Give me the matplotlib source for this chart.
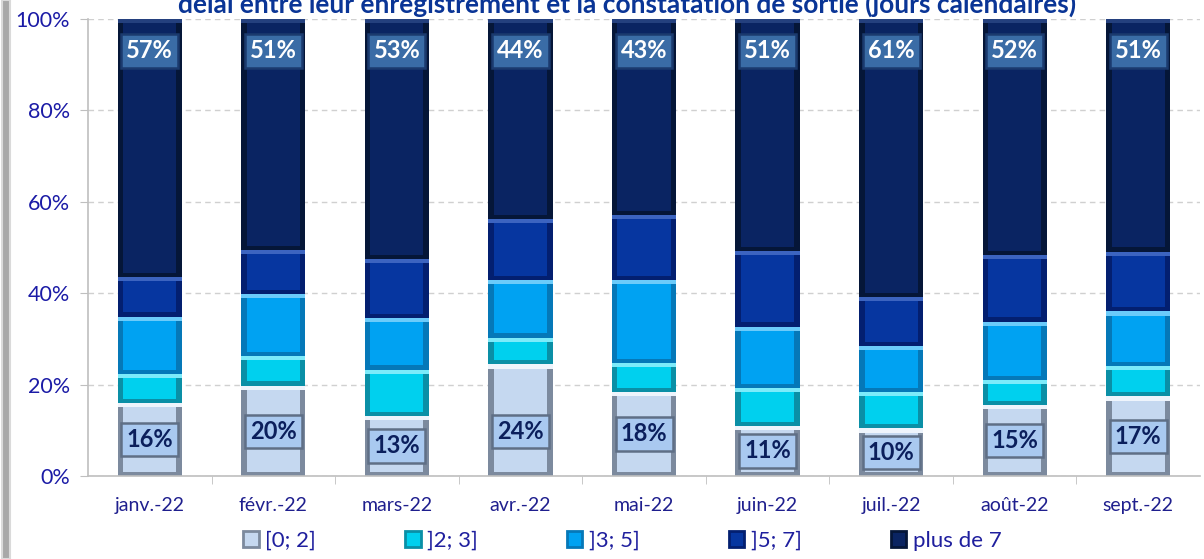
import matplotlib
matplotlib.use('Agg')
import matplotlib.pyplot as plt
import numpy as np
from matplotlib.patches import Rectangle

plt.rcParams['font.family'] = ['Lato', 'DejaVu Sans']

# data (share of cases by delay, %)
months = ['janv.-22', 'févr.-22', 'mars-22', 'avr.-22', 'mai-22',
          'juin-22', 'juil.-22', 'août-22', 'sept.-22']
series = ['[0; 2]', ']2; 3]', ']3; 5]', ']5; 7]', 'plus de 7']
d0_2 = [16.0, 19.8, 13.2, 24.4, 18.4, 11.0, 10.4, 15.5, 17.4]
d2_3 = [6.3, 6.5, 10.1, 5.9, 6.3, 8.3, 8.0, 5.5, 6.7]
d3_5 = [12.6, 13.5, 11.3, 12.6, 18.2, 13.4, 10.0, 12.8, 11.9]
d5_7 = [8.6, 9.7, 12.8, 13.3, 14.2, 16.6, 10.7, 14.6, 13.1]
d7p = [56.5, 50.5, 52.6, 43.8, 42.9, 50.7, 60.9, 51.6, 50.9]
labels_low = ['16%', '20%', '13%', '24%', '18%', '11%', '10%', '15%', '17%']
labels_high = ['57%', '51%', '53%', '44%', '43%', '51%', '61%', '52%', '51%']

faces = ['#C5D8F0', '#00D0EE', '#00A2F2', '#0636A0', '#0A2462']
darks = ['#7C8A9E', '#0A8FA6', '#0578B8', '#031F70', '#051638']
lights = ['#EEF4FC', '#7CEBFA', '#6BCBFA', '#3C64C0', '#24407E']

fig = plt.figure(figsize=(12.04, 5.59), dpi=100)
ax = fig.add_axes([0.0731, 0.1485, 0.9236, 0.8175])

x = np.arange(len(months))
w = 0.52
dy = 0.9   # bevel thickness in %
dx = 0.045

def bevel_bar(xs, h, b, i):
    ax.bar(xs, h, w, bottom=b, color=darks[i], linewidth=0, zorder=2)
    ax.bar(xs, dy, w, bottom=np.array(b) + np.array(h) - dy, color=lights[i],
           linewidth=0, zorder=2)
    ax.bar(xs, np.array(h) - 2 * dy, w - 2 * dx, bottom=np.array(b) + dy,
           color=faces[i], linewidth=0, zorder=3)

bottom = np.zeros(len(months))
for i, vals in enumerate([d0_2, d2_3, d3_5, d5_7, d7p]):
    vals = np.array(vals)
    bevel_bar(x, vals, bottom, i)
    bottom = bottom + vals

# data labels
for xi, h, t in zip(x, d0_2, labels_low):
    ax.text(xi, min(h / 2, 9.8), t, ha='center', va='center', fontsize=17,
            fontweight='bold', color='#0B1F5C', zorder=5,
            bbox=dict(boxstyle='square,pad=0.22', fc='#A9C9F0', ec='#5F6F86', lw=1.8))
for xi, t in zip(x, labels_high):
    ax.text(xi, 93.0, t, ha='center', va='center', fontsize=17,
            fontweight='bold', color='white', zorder=5,
            bbox=dict(boxstyle='square,pad=0.22', fc='#3A6CA6', ec='#1B3A6E', lw=1.8))

ax.set_xlim(-0.5, len(months) - 0.5)
ax.set_ylim(0, 100)
ax.set_yticks(np.arange(0, 101, 20))
ax.set_yticklabels([f'{v}%' for v in range(0, 101, 20)])
ax.set_xticks(x)
ax.set_xticklabels(months)
ax.set_xticks(np.arange(0.5, len(months) - 0.5, 1), minor=True)
ax.tick_params(axis='x', which='major', length=0, pad=15, labelsize=14, labelcolor='#1F1F8E')
ax.tick_params(axis='x', which='minor', length=6, color='#BFBFBF')
ax.tick_params(axis='y', length=6, color='#BFBFBF', pad=7, labelsize=15.5, labelcolor='#1B1BA6')
ax.yaxis.grid(True, linestyle=(0, (4, 3)), color='#D0D0D0', lw=1)
ax.set_axisbelow(True)
for s in ['top', 'right']:
    ax.spines[s].set_visible(False)
for s in ['left', 'bottom']:
    ax.spines[s].set_color('#BFBFBF')
    ax.spines[s].set_linewidth(1.2)

# legend
handles = [Rectangle((0, 0), 1, 1, fc=faces[i], ec=darks[i], lw=2) for i in range(5)]
fig.legend(handles, series, loc='center', bbox_to_anchor=(0.517, 0.033), ncol=5,
           frameon=False, fontsize=16, labelcolor='#1F1F9E', handlelength=0.7,
           handleheight=0.7, handletextpad=0.3, columnspacing=4.0)

# title (cut at top as in the original)
fig.text(0.521, 0.978, 'délai entre leur enregistrement et la constatation de sortie (jours calendaires)',
         ha='center', va='baseline', fontsize=19, fontweight='bold', color='#0A3596')

# window frame on the left
fig.patches.append(Rectangle((0.0015, 0), 0.007, 1, transform=fig.transFigure,
                             fc='#A8A8A8', ec='#DADADA', lw=1.5, zorder=10))

fig.savefig('out.png', dpi=100)
